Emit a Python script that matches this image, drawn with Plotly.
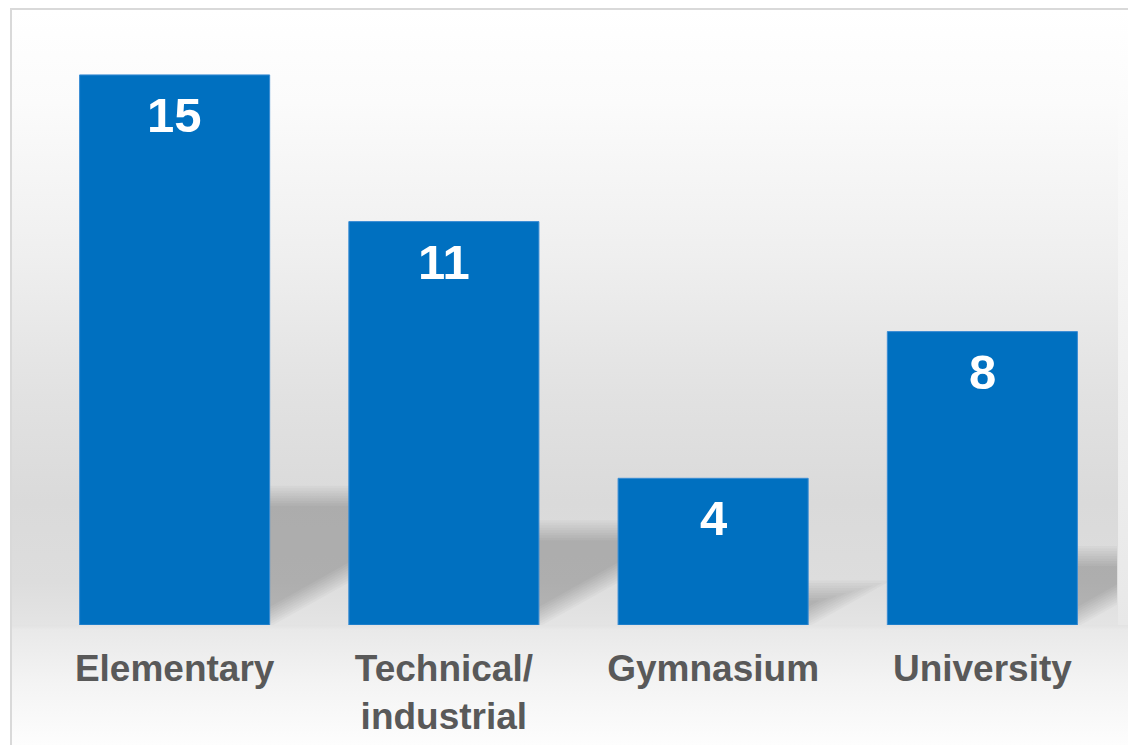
import base64
import plotly.graph_objects as go

# ---- data ----
categories = ["Elementary", "Technical/<br>industrial", "Gymnasium", "University"]
values = [15, 11, 4, 8]
value_labels = ["15", "11", "4", "8"]

# ---- layout constants ----
FIG_W, FIG_H = 1128, 745
ML, MR, MT, MB = 40, 11, 10, 120
PW, PH = FIG_W - ML - MR, FIG_H - MT - MB
Y_MAX = 16.77
X_MIN, X_MAX = -0.5, len(categories) - 0.5
BAR_W = 0.706
PX_X = PW / (X_MAX - X_MIN)
PX_Y = PH / Y_MAX

BLUE = "#0070C0"
LABEL_GRAY = "#595959"
FONT = "Liberation Sans, Arial, sans-serif"

# ---- background (wall / floor gradient + frame) as an SVG image ----
svg = f"""<svg xmlns='http://www.w3.org/2000/svg' width='{FIG_W}' height='{FIG_H}' viewBox='0 0 {FIG_W} {FIG_H}' preserveAspectRatio='none'>
<defs>
<linearGradient id='w' x1='0' y1='0' x2='0' y2='1'>
<stop offset='0' stop-color='#ffffff'/>
<stop offset='0.15' stop-color='#fbfbfb'/>
<stop offset='0.40' stop-color='#efefef'/>
<stop offset='0.62' stop-color='#e2e2e2'/>
<stop offset='0.80' stop-color='#dadada'/>
<stop offset='0.93' stop-color='#dddddd'/>
<stop offset='1' stop-color='#e4e4e4'/>
</linearGradient>
<linearGradient id='w2' x1='0' y1='0' x2='0' y2='1'>
<stop offset='0' stop-color='#ffffff'/>
<stop offset='0.6' stop-color='#f0f0f0'/>
<stop offset='1' stop-color='#e8e8e8'/>
</linearGradient>
<linearGradient id='f' x1='0' y1='0' x2='0' y2='1'>
<stop offset='0' stop-color='#e2e2e2'/>
<stop offset='0.04' stop-color='#e9e9e9'/>
<stop offset='0.5' stop-color='#f4f4f4'/>
<stop offset='1' stop-color='#fdfdfd'/>
</linearGradient>
</defs>
<rect x='0' y='0' width='{FIG_W}' height='{FIG_H}' fill='#ffffff'/>
<rect x='12' y='10' width='1106' height='615' fill='url(#w)'/>
<rect x='1118' y='10' width='10' height='615' fill='url(#w2)'/>
<rect x='12' y='625' width='1116' height='120' fill='url(#f)'/>
<path d='M11 {FIG_H} L11 9 L{FIG_W} 9' fill='none' stroke='#d9d9d9' stroke-width='2'/>
</svg>"""
bg_src = "data:image/svg+xml;base64," + base64.b64encode(svg.encode()).decode()

fig = go.Figure()

fig.add_trace(go.Bar(
    x=list(range(len(categories))),
    y=values,
    width=BAR_W,
    marker=dict(color=BLUE, line=dict(color="#3a8cd4", width=1)),
    hoverinfo="skip",
    showlegend=False,
))

# ---- soft cast shadows behind bars (derived from bar values) ----
SHADOW_FRAC = 0.235
SLOPE = 0.56
B0_PX = 8
shapes = []
for i, v in enumerate(values):
    xl = i - BAR_W / 2
    xr = i + BAR_W / 2
    hs_px = v * SHADOW_FRAC * PX_Y
    for e in (-10, -7.5, -5, -2.5, 0, 2.5, 5, 7.5, 10):
        top_px = hs_px + e
        b0_px = B0_PX - e
        tip_px = (top_px - b0_px) / SLOPE
        if tip_px <= 0:
            continue
        path = (f"M {xl} {b0_px / PX_Y} L {xr} {b0_px / PX_Y} "
                f"L {xr + tip_px / PX_X} {top_px / PX_Y} "
                f"L {xl} {top_px / PX_Y} Z")
        shapes.append(dict(type="path", xref="x", yref="y", path=path,
                           fillcolor="rgba(0,0,0,0.023)", line=dict(width=0),
                           layer="below"))

annotations = []
for i, (v, t) in enumerate(zip(values, value_labels)):
    annotations.append(dict(
        x=i, y=v, xref="x", yref="y", text=t, showarrow=False,
        yanchor="middle", yshift=-40,
        font=dict(family=FONT, size=49, color="white", weight="bold"),
    ))

fig.update_layout(
    width=FIG_W, height=FIG_H,
    margin=dict(l=ML, r=MR, t=MT, b=MB, pad=0),
    paper_bgcolor="white",
    plot_bgcolor="rgba(0,0,0,0)",
    showlegend=False,
    shapes=shapes,
    annotations=annotations,
    images=[dict(
        source=bg_src, xref="paper", yref="paper",
        x=-ML / PW, y=1 + MT / PH, sizex=FIG_W / PW, sizey=FIG_H / PH,
        xanchor="left", yanchor="top", sizing="stretch", layer="below",
    )],
    xaxis=dict(
        range=[X_MIN, X_MAX],
        tickmode="array",
        tickvals=list(range(len(categories))),
        ticktext=categories,
        tickfont=dict(family=FONT, size=37, color=LABEL_GRAY, weight="bold"),
        ticklabelstandoff=18,
        showgrid=False, zeroline=False, showline=False, ticks="",
        automargin=False, fixedrange=True,
    ),
    yaxis=dict(
        range=[0, Y_MAX], visible=False, showgrid=False, zeroline=False,
        automargin=False, fixedrange=True,
    ),
)

fig.write_html(
    "out.html",
    config={"displayModeBar": False},
    post_script="document.body.style.margin='0';document.body.style.padding='0';",
)
